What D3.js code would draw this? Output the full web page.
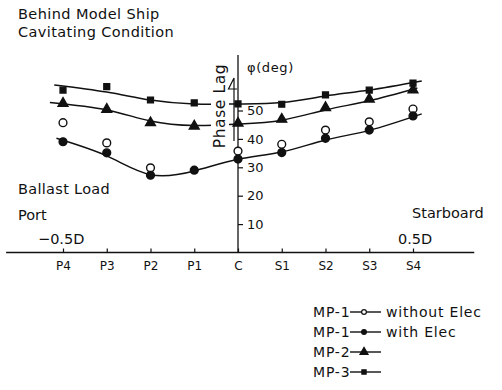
<!DOCTYPE html>
<html>
<head>
<meta charset="utf-8">
<script src="https://cdn.jsdelivr.net/npm/d3@7/dist/d3.min.js"></script>
<style>
  html, body { margin: 0; padding: 0; background: #fff; }
  svg { display: block; }
  text { font-family: "DejaVu Sans", sans-serif; fill: #111; }
</style>
</head>
<body>
<svg id="chart" width="502" height="390"></svg>
<script>
// Blade stations, port to starboard (C = centre)
const categories = ["P4", "P3", "P2", "P1", "C", "S1", "S2", "S3", "S4"];
const stations = [-4, -3, -2, -1, 0, 1, 2, 3, 4];
const yTicks = [10, 20, 30, 40, 50];

// Measured phase lag (deg) at each station
const mp1Without = [45.7, 38.6, 29.8, null, 35.7, 38.1, 43.1, 46.0, 50.5];
const mp1With    = [39.0, 35.1, 27.2, 29.0, 32.9, 35.2, 40.2, 43.1, 48.1];
const mp2        = [52.5, 50.4, 45.7, 44.5, 45.5, 46.9, 51.0, 54.0, 57.2];
const mp3        = [57.2, 58.4, 53.7, 52.7, 52.3, 52.2, 55.5, 57.2, 59.6];

// Faired curves through the data: station position and phase lag
const fitWithX  = [-4.15, -3, -2, -1, 0, 1, 2, 3, 4.2];
const fitWithY  = [40.2, 34.0, 27.4, 28.7, 32.8, 35.4, 39.6, 43.0, 48.8];
const fitMp2X   = [-4.3, -3, -2, -1, 0, 1, 2, 3, 4.1];
const fitMp2Y   = [52.8, 50.2, 46.3, 44.7, 45.2, 46.6, 50.2, 53.4, 57.9];
const fitMp3X   = [-4.2, -3, -2, -1, 0, 1, 2, 3, 4.2];
const fitMp3Y   = [59.0, 56.5, 53.7, 52.3, 52.3, 52.8, 55.1, 57.2, 60.4];

const svg = d3.select("#chart");
const x = d3.scaleLinear().domain([-4, 4]).range([63, 413]);
const y = d3.scaleLinear().domain([0, 60]).range([252.5, 82.1]);

const ink = "#111";

// Symbol generators
const sym = {
  circle: d3.symbol().type(d3.symbolCircle).size(48),
  tri: d3.symbol().type(d3.symbolTriangle).size(42),
  sq: d3.symbol().type(d3.symbolSquare).size(34)
};

// Titles and annotations
svg.append("text").attr("x", 18).attr("y", 18.5).attr("font-size", 14.5)
  .attr("letter-spacing", 0.4).text("Behind Model Ship");
svg.append("text").attr("x", 18).attr("y", 36.5).attr("font-size", 14.5)
  .attr("letter-spacing", 0.4).text("Cavitating Condition");
svg.append("text").attr("x", 18).attr("y", 194).attr("font-size", 14.5)
  .attr("letter-spacing", 0.3).text("Ballast Load");
svg.append("text").attr("x", 18).attr("y", 220).attr("font-size", 14.5).text("Port");
svg.append("text").attr("x", 38).attr("y", 243.5).attr("font-size", 14.5).text("−0.5D");
svg.append("text").attr("x", 412).attr("y", 218).attr("font-size", 14.5).text("Starboard");
svg.append("text").attr("x", 398).attr("y", 243.5).attr("font-size", 14.5).text("0.5D");

// Horizontal axis
svg.append("line")
  .attr("x1", x(-5.3)).attr("x2", x(5.4))
  .attr("y1", y(0)).attr("y2", y(0))
  .attr("stroke", ink).attr("stroke-width", 1.3);

const xAxis = d3.axisBottom(x)
  .tickValues(stations)
  .tickFormat((d, i) => categories[i])
  .tickSizeInner(-4).tickSizeOuter(0).tickPadding(9);
const gx = svg.append("g").attr("transform", `translate(0,${y(0)})`).call(xAxis);
gx.select(".domain").remove();
gx.selectAll("line").attr("stroke", ink).attr("stroke-width", 1.2);
gx.selectAll("text").attr("font-size", 12).attr("fill", ink)
  .attr("font-family", "DejaVu Sans, sans-serif");

// Vertical axis at the centre station
svg.append("line")
  .attr("x1", x(0)).attr("x2", x(0))
  .attr("y1", y(0)).attr("y2", y(69.5))
  .attr("stroke", ink).attr("stroke-width", 1.3);

const yAxis = d3.axisRight(y).tickValues(yTicks).tickSizeInner(5).tickSizeOuter(0).tickPadding(4);
const gy = svg.append("g").attr("transform", `translate(${x(0)},0)`).call(yAxis);
gy.select(".domain").remove();
gy.selectAll("line").attr("stroke", ink).attr("stroke-width", 1.2);
gy.selectAll("text").attr("font-size", 13).attr("fill", ink)
  .attr("font-family", "DejaVu Sans, sans-serif");

svg.append("text").attr("x", x(0) + 9).attr("y", 72).attr("font-size", 13)
  .attr("letter-spacing", 0.6).text("φ(deg)");

// Faired curves
const line = d3.line().x(d => x(d[0])).y(d => y(d[1])).curve(d3.curveNatural);
const curves = [
  d3.zip(fitWithX, fitWithY),
  d3.zip(fitMp2X, fitMp2Y),
  d3.zip(fitMp3X, fitMp3Y)
];
svg.append("g").selectAll("path").data(curves).join("path")
  .attr("d", line).attr("fill", "none").attr("stroke", ink).attr("stroke-width", 1.5);

// "Phase Lag" label with its arrow, blanking the curves behind it
svg.append("rect").attr("x", 211).attr("y", 60).attr("width", 18).attr("height", 92).attr("fill", "#fff");
svg.append("text")
  .attr("transform", "translate(225,106) rotate(-90)")
  .attr("text-anchor", "middle").attr("font-size", 15.5).attr("letter-spacing", 0.6)
  .text("Phase Lag");
svg.append("path")
  .attr("d", "M234,141 L234,78 L228.5,89 L237,89")
  .attr("fill", "none").attr("stroke", ink).attr("stroke-width", 1.2);

// Markers
function marks(values, kind, fill) {
  const pts = stations.map((s, i) => [s, values[i]]).filter(d => d[1] != null);
  svg.append("g").selectAll("path").data(pts).join("path")
    .attr("transform", d => `translate(${x(d[0])},${y(d[1])})`)
    .attr("d", sym[kind]())
    .attr("fill", fill).attr("stroke", ink).attr("stroke-width", 1.4);
}
marks(mp1Without, "circle", "#fff");
marks(mp1With, "circle", ink);
marks(mp2, "tri", ink);
marks(mp3, "sq", ink);

// Legend
const legend = [
  { name: "MP-1", kind: "circle", fill: "#fff", note: "without Elec" },
  { name: "MP-1", kind: "circle", fill: ink, note: "with Elec" },
  { name: "MP-2", kind: "tri", fill: ink, note: "" },
  { name: "MP-3", kind: "sq", fill: ink, note: "" }
];
const legendType = { circle: d3.symbolCircle, tri: d3.symbolTriangle, sq: d3.symbolSquare };
const legendSize = { circle: 18, tri: 28, sq: 18 };
const lg = svg.append("g").selectAll("g").data(legend).join("g")
  .attr("transform", (d, i) => `translate(313,${317 + i * 20})`);
lg.append("text").attr("font-size", 14).attr("letter-spacing", 0.8).text(d => d.name);
lg.append("line").attr("x1", 37).attr("x2", 68).attr("y1", -5).attr("y2", -5)
  .attr("stroke", ink).attr("stroke-width", 1.4);
lg.append("path")
  .attr("transform", "translate(51,-5)")
  .attr("d", d => d3.symbol().type(legendType[d.kind]).size(legendSize[d.kind])())
  .attr("fill", d => d.fill).attr("stroke", ink).attr("stroke-width", 1.2);
lg.append("text").attr("x", 73).attr("font-size", 14).attr("letter-spacing", 0.8).text(d => d.note);
</script>
</body>
</html>
